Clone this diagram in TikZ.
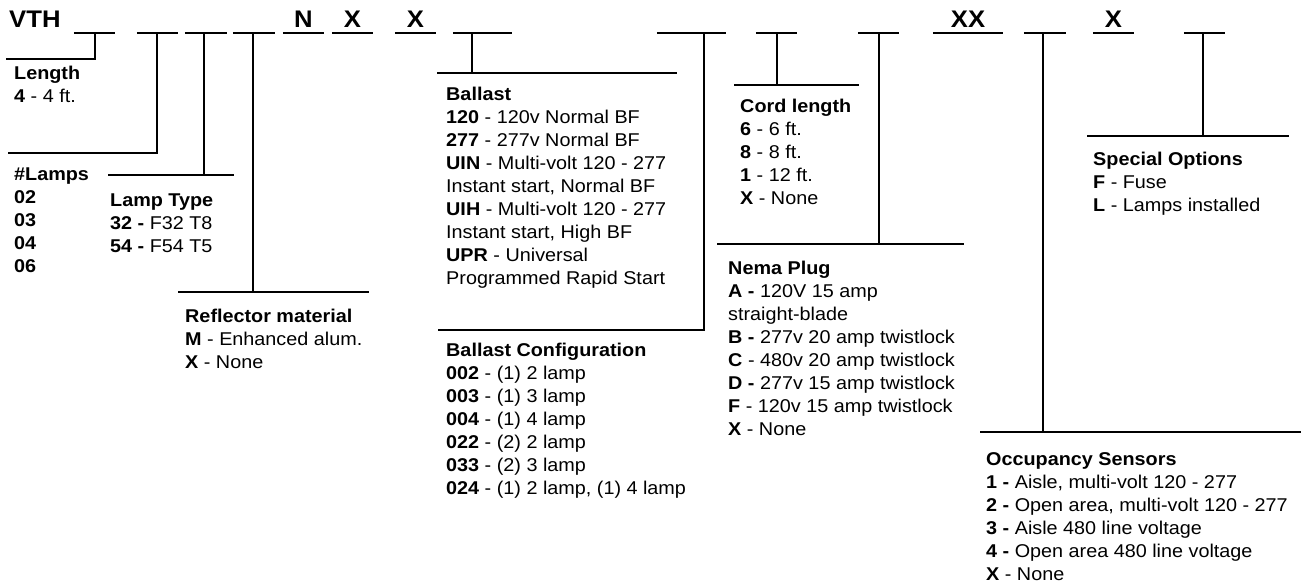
\documentclass[tikz,border=0pt]{standalone}
\usepackage{fontspec}
\setmainfont{Liberation Sans}[FakeStretch=1.07]
\usetikzlibrary{positioning,calc}

% Helper macro for one lead line from a code slot down to its text block
\def\codelead#1#2#3#4#5#6{%
  % #1=slot node, #2=name, #3=junction x, #4=rule y, #5=left x, #6=right x
  \coordinate (#2j) at (#3,#4);
  \coordinate (#2l) at (#5,#4);
  \coordinate (#2r) at (#6,#4);
  \draw[lead] (#1.south -| #2j) -- (#2j);
  \draw[lead] (#2l) -- (#2r);
}

\begin{document}
\begin{tikzpicture}[
  x=1pt,y=-1pt,
  rule/.style={line width=2.6pt},
  lead/.style={rule,line cap=rect},
  slot/.style={anchor=south,inner xsep=0pt,inner ysep=5.5pt,text depth=0pt,font=\fontsize{24}{24}\selectfont\bfseries},
  spec/.style={anchor=north west,inner sep=0pt,align=left,font=\fontsize{18.5}{23}\selectfont},
]
\useasboundingbox (0,0) rectangle (1301,584);

% --- CODE LINE ---
\node[slot,anchor=base west,inner sep=0pt] (vth) at (9,27.5) {VTH};
\foreach \n/\xa/\xb/\t in {1/74/115/{},2/137/178/{},3/185/227/{},4/233/275/{},
    5/283/324/N,6/332/373/X,7/395/436/X,8/453/512/{},9/657/726/{},
    10/756/797/{},11/858/899/{},12/933/1003/XX,13/1024/1066/{},
    14/1093/1134/X,15/1184/1225/{}} {
  \node[slot,minimum width={(\xb-\xa)*1pt}] (s\n) at ({(\xa+\xb)/2},33) {\t};
  \draw[rule] (s\n.south west) -- (s\n.south east);
}

% --- LEADS ---
\codelead{s1}{len}{95}{59}{7}{95}
\codelead{s2}{lmp}{157}{153}{9}{157}
\codelead{s3}{typ}{204}{175}{109}{233}
\codelead{s4}{refl}{253}{292}{179}{368}
\codelead{s8}{bal}{472}{73}{438}{676}
\codelead{s9}{cfg}{704}{330}{439}{704}
\codelead{s10}{cord}{777}{85}{735}{858}
\codelead{s11}{nema}{879}{244}{718}{963}
\codelead{s13}{occ}{1043}{432}{981}{1301}
\codelead{s15}{opt}{1203}{136}{1088}{1288}

% --- TEXT BLOCKS (top = first baseline - cap height) ---
\node[spec] (length) at (14,66.3)
  {\textbf{Length}\\\textbf{4} - 4 ft.};
\node[spec] (lamps) at (14,167.3)
  {\textbf{\#Lamps}\\\textbf{02}\\\textbf{03}\\\textbf{04}\\\textbf{06}};
\node[spec] (lamptype) at (110,193.3)
  {\textbf{Lamp Type}\\\textbf{32 -} F32 T8\\\textbf{54 -} F54 T5};
\node[spec] (reflector) at (185,309.3)
  {\textbf{Reflector material}\\\textbf{M} - Enhanced alum.\\\textbf{X} - None};
\node[spec] (ballast) at (446,87.3)
  {\textbf{Ballast}\\\textbf{120} - 120v Normal BF\\\textbf{277} - 277v Normal BF\\
   \textbf{UIN} - Multi-volt 120 - 277\\Instant start, Normal BF\\
   \textbf{UIH} - Multi-volt 120 - 277\\Instant start, High BF\\
   \textbf{UPR} - Universal\\Programmed Rapid Start};
\node[spec] (config) at (446,343.3)
  {\textbf{Ballast Configuration}\\\textbf{002} - (1) 2 lamp\\\textbf{003} - (1) 3 lamp\\
   \textbf{004} - (1) 4 lamp\\\textbf{022} - (2) 2 lamp\\\textbf{033} - (2) 3 lamp\\
   \textbf{024} - (1) 2 lamp, (1) 4 lamp};
\node[spec] (cordlen) at (740,99.3)
  {\textbf{Cord length}\\\textbf{6} - 6 ft.\\\textbf{8} - 8 ft.\\\textbf{1} - 12 ft.\\\textbf{X} - None};
\node[spec] (plug) at (728,261.3)
  {\textbf{Nema Plug}\\\textbf{A -} 120V 15 amp\\straight-blade\\\textbf{B -} 277v 20 amp twistlock\\
   \textbf{C} - 480v 20 amp twistlock\\\textbf{D -} 277v 15 amp twistlock\\
   \textbf{F} - 120v 15 amp twistlock\\\textbf{X} - None};
\node[spec] (options) at (1093,152.3)
  {\textbf{Special Options}\\\textbf{F} - Fuse\\\textbf{L} - Lamps installed};
\node[spec] (sensors) at (986,452.3)
  {\textbf{Occupancy Sensors}\\\textbf{1 -} Aisle, multi-volt 120 - 277\\
   \textbf{2 -} Open area, multi-volt 120 - 277\\\textbf{3 -} Aisle 480 line voltage\\
   \textbf{4 -} Open area 480 line voltage\\\textbf{X} - None};

\end{tikzpicture}
\end{document}
